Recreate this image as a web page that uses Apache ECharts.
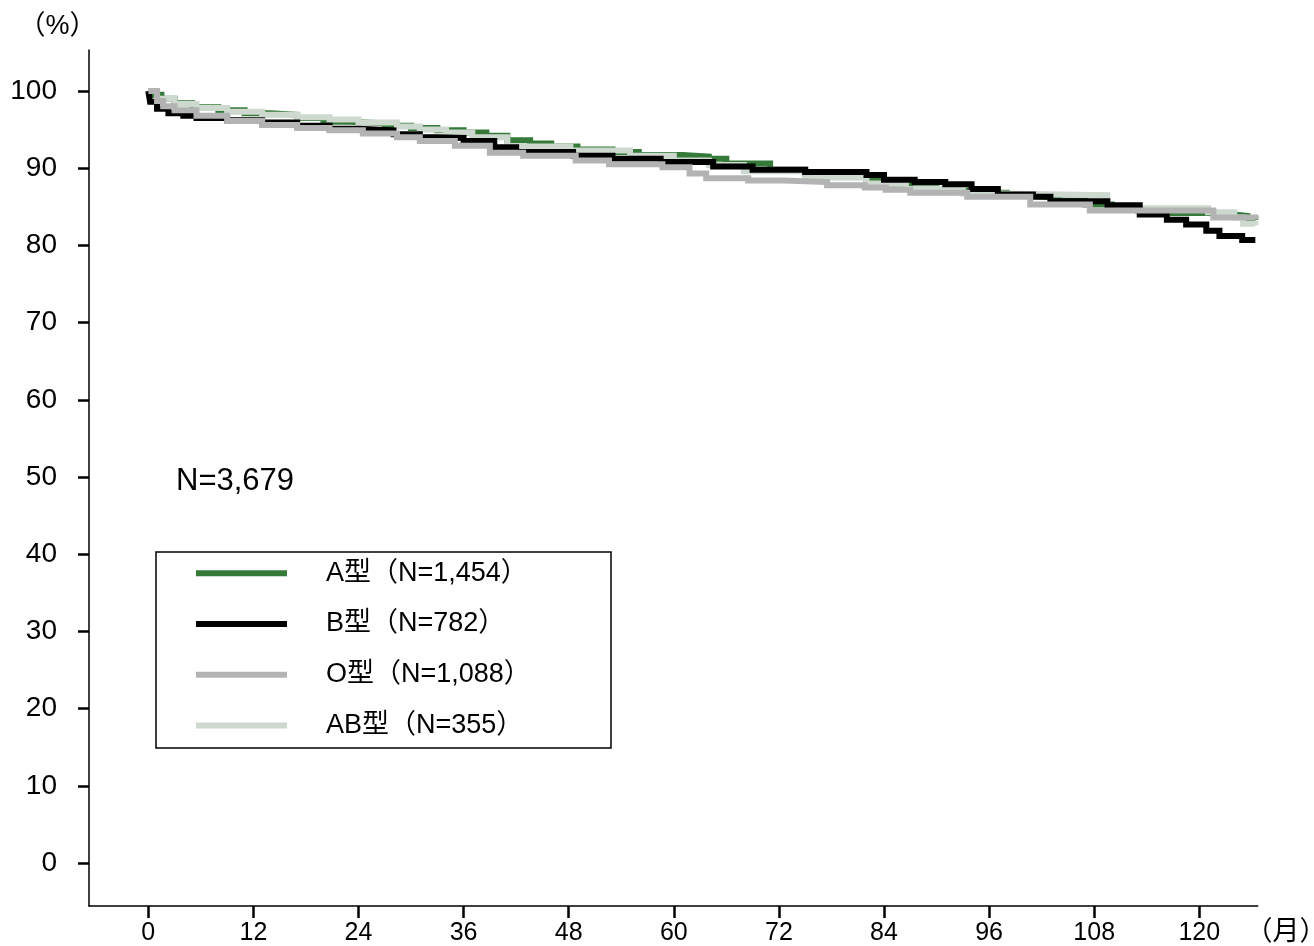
<!DOCTYPE html>
<html>
<head>
<meta charset="utf-8">
<script src="https://cdn.jsdelivr.net/npm/echarts@6/dist/echarts.min.js"></script>
<style>
html,body{margin:0;padding:0;background:#fff;}
#chart{width:1314px;height:946px;}
</style>
</head>
<body>
<div id="chart"></div>
<script>
// ---- data (months, survival %) ----
const xTicks = [0, 12, 24, 36, 48, 60, 72, 84, 96, 108, 120];
const yTicks = [0, 10, 20, 30, 40, 50, 60, 70, 80, 90, 100];

const seriesNames = ['A型（N=1,454）', 'B型（N=782）', 'O型（N=1,088）', 'AB型（N=355）'];
const seriesColors = ['#357a38', '#000000', '#b3b3b3', '#cdd8cf'];

const aMonths = [0, 0.6, 1.5, 3, 5, 8, 11, 14, 17, 20, 23, 27, 30, 33, 36, 38.6, 41, 43.6, 46, 49, 53, 56, 61, 64, 66, 71, 75, 78, 82, 84, 87, 90, 94, 98, 101, 104, 107, 110, 113, 117, 121, 124, 125.5, 126.4];
const aValues = [100, 99.5, 99.0, 98.4, 97.9, 97.5, 97.1, 96.9, 96.5, 96.0, 95.8, 95.5, 95.2, 94.9, 94.6, 94.2, 93.6, 93.2, 92.8, 92.4, 92.1, 91.7, 91.5, 91.2, 90.6, 89.8, 89.2, 88.9, 88.5, 88.0, 87.4, 87.1, 86.8, 86.4, 86.2, 85.8, 85.3, 84.8, 84.5, 84.2, 84.0, 83.8, 83.4, 83.3];

const bMonths = [0, 0.2, 1, 2.3, 4, 5.5, 9, 13, 17, 20.7, 24, 28, 31, 33, 36, 39.5, 42, 48.5, 53, 58.5, 64.5, 69, 75, 82, 84, 87.5, 91, 94, 97, 101, 103, 109.5, 113.2, 116.3, 118.5, 120.8, 122.3, 124.9, 126.4];
const bValues = [100, 98.6, 97.7, 97.1, 96.8, 96.5, 96.2, 95.9, 95.5, 95.1, 94.9, 94.4, 94.0, 93.9, 93.5, 92.7, 92.1, 91.6, 91.2, 90.8, 90.2, 89.8, 89.5, 89.1, 88.5, 88.2, 87.9, 87.3, 86.6, 86.3, 85.7, 85.2, 84.0, 83.3, 82.7, 81.9, 81.2, 80.7, 80.7];

const oMonths = [0, 1, 1.7, 3, 5.5, 9, 13, 17, 20.7, 24.5, 28.4, 31, 35, 39, 42.8, 48.8, 52.6, 58.7, 61.8, 63.7, 68.5, 72.5, 77.5, 81.8, 84.2, 87, 93.5, 100.7, 107.5, 121.6, 126.4];
const oValues = [100, 98.7, 98.0, 97.5, 96.8, 96.1, 95.6, 95.2, 94.9, 94.5, 94.0, 93.5, 92.9, 92.0, 91.6, 91.0, 90.5, 90.1, 89.3, 88.7, 88.4, 88.2, 87.8, 87.5, 87.2, 86.8, 86.3, 85.3, 84.5, 83.6, 83.4];

const abMonths = [0, 1, 3, 5.5, 9, 13, 17, 20.7, 24, 28.4, 31, 34, 37, 41, 48.2, 55, 60, 64, 68, 75, 82, 86.5, 93, 97, 109.5, 121, 124, 125, 126.4];
const abValues = [100, 99.0, 98.3, 97.8, 97.3, 96.9, 96.6, 96.3, 95.9, 95.4, 95.0, 94.6, 94.0, 92.8, 92.3, 91.6, 91.0, 90.4, 89.6, 88.8, 88.0, 87.3, 86.7, 86.5, 84.8, 84.3, 83.6, 82.8, 82.6];

const totalLabel = 'N=3,679';
const yUnit = '（%）';
const xUnit = '（月）';

// ---- build ----
function pairs(ms, vs) { return ms.map((m, i) => [m, vs[i]]); }
const allData = [pairs(aMonths, aValues), pairs(bMonths, bValues), pairs(oMonths, oValues), pairs(abMonths, abValues)];
const drawOrder = [0, 3, 1, 2];

const FONT = '"Liberation Sans", Arial, "Noto Sans CJK JP", sans-serif';

const chart = echarts.init(document.getElementById('chart'), null, {renderer: 'canvas'});
const option = {
  animation: false,
  backgroundColor: '#ffffff',
  grid: {left: 89, right: 56.3, top: 50, bottom: 39, containLabel: false},
  xAxis: {
    type: 'value', min: -6.77, max: 126.67,
    splitLine: {show: false},
    axisLine: {onZero: false, lineStyle: {color: '#000', width: 1.5}},
    axisTick: {show: true, customValues: xTicks, length: 12, lineStyle: {color: '#000', width: 2.5}},
    axisLabel: {customValues: xTicks, margin: 15, fontSize: 25, color: '#000', fontFamily: FONT}
  },
  yAxis: {
    type: 'value', min: -5.56, max: 105.3,
    splitLine: {show: false},
    axisLine: {onZero: false, lineStyle: {color: '#000', width: 1.5}},
    axisTick: {show: true, customValues: yTicks, length: 11, lineStyle: {color: '#000', width: 2.5}},
    axisLabel: {customValues: yTicks, margin: 32, fontSize: 28, color: '#000', fontFamily: FONT}
  },
  legend: {
    orient: 'vertical', left: 196, top: 559.8, padding: 0,
    itemWidth: 91, itemHeight: 6, itemGap: 23.7, icon: 'rect',
    data: seriesNames,
    textStyle: {fontSize: 27, lineHeight: 27, color: '#000', fontFamily: FONT, padding: [0, 0, 0, 34]},
    selectedMode: false
  },
  graphic: [
    {type: 'rect', shape: {x: 156, y: 552, width: 455, height: 196}, style: {fill: 'none', stroke: '#000', lineWidth: 1.5}, z: 1},
    {type: 'text', x: 176, y: 481, style: {text: totalLabel, fontSize: 31, fill: '#000', fontFamily: FONT, verticalAlign: 'middle', textVerticalAlign: 'middle'}},
    {type: 'text', x: 57.5, y: 27, style: {text: yUnit, fontSize: 27, fill: '#000', fontFamily: FONT, align: 'center', textAlign: 'center', verticalAlign: 'middle', textVerticalAlign: 'middle'}},
    {type: 'text', x: 1286, y: 933, style: {text: xUnit, fontSize: 27, fill: '#000', fontFamily: FONT, align: 'center', textAlign: 'center', verticalAlign: 'middle', textVerticalAlign: 'middle'}}
  ],
  series: drawOrder.map(i => ({
    name: seriesNames[i],
    type: 'line',
    step: 'end',
    data: allData[i],
    showSymbol: false,
    symbol: 'none',
    silent: true,
    color: seriesColors[i],
    lineStyle: {color: seriesColors[i], width: 6, cap: 'butt', join: 'miter'},
    itemStyle: {color: seriesColors[i]}
  }))
};
chart.setOption(option);
</script>
</body>
</html>
